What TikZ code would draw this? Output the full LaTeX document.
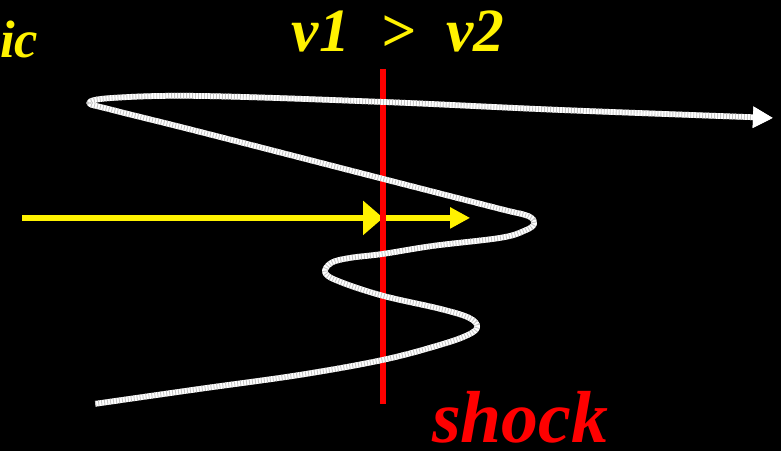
\documentclass[tikz,border=0pt]{standalone}
\usepackage{fontspec}
\setmainfont{Liberation Serif}
\usetikzlibrary{arrows.meta}
\tikzset{
    flow/.style={yellow, line width=0.13cm},
    shockline/.style={red, line width=0.12cm},
    path/.style={white, line width=0.115cm, line join=round},
    bigtext/.style={font=\bfseries\itshape\fontsize{35}{42}\selectfont, inner sep=0pt},
}

\begin{document}
\begin{tikzpicture}[x=0.02cm, y=-0.02cm]
        \fill[black] (0,0) rectangle (781,451);
        \coordinate (upstream) at (22,218);
        \coordinate (front) at (383,218);
        \coordinate (downstream) at (470,218);
        \coordinate (shocktop) at (383,69);
        \coordinate (shockbot) at (383,404);
        \draw[flow, -{Triangle[length=0.4cm, width=0.66cm]}] (upstream) -- (front);
        \draw[flow, -{Triangle[length=0.4cm, width=0.4cm]}] (front) -- (downstream);
        \draw[shockline] (shocktop) -- (shockbot);
        \draw[path, -{Triangle[length=0.4cm, width=0.4cm]}] plot[smooth, tension=0.6] coordinates {(95,404) (200,389) (300,375) (383,360) (440,345) (468,335) (477,327) (469,318) (440,309) (383,296) (340,282) (325,273) (331,263) (350,258) (383,254) (433,246) (500,238) (524,231) (534,224) (528,216) (500,209) (383,179) (200,132) (112,110) (89,103) (112,98) (200,96) (383,102) (560,110) (773,118)};
        \draw[path, gray!45!white, dash pattern=on 0.5pt off 1.2pt, -{Triangle[length=0.4cm, width=0.4cm, color=white]}] plot[smooth, tension=0.6] coordinates {(95,404) (200,389) (300,375) (383,360) (440,345) (468,335) (477,327) (469,318) (440,309) (383,296) (340,282) (325,273) (331,263) (350,258) (383,254) (433,246) (500,238) (524,231) (534,224) (528,216) (500,209) (383,179) (200,132) (112,110) (89,103) (112,98) (200,96) (383,102) (560,110) (773,118)};
        \node[bigtext, yellow, anchor=base] (speeds) at (398,52) {v1\ \ >\ \ v2};
        \node[bigtext, yellow, anchor=base east, font=\bfseries\itshape\fontsize{30}{36}\selectfont] (cut) at (38,58) {ic};
        \node[bigtext, red, anchor=base, font=\bfseries\itshape\fontsize{42}{50}\selectfont] (shock) at (520,443) {shock};
    \end{tikzpicture}
\end{document}
